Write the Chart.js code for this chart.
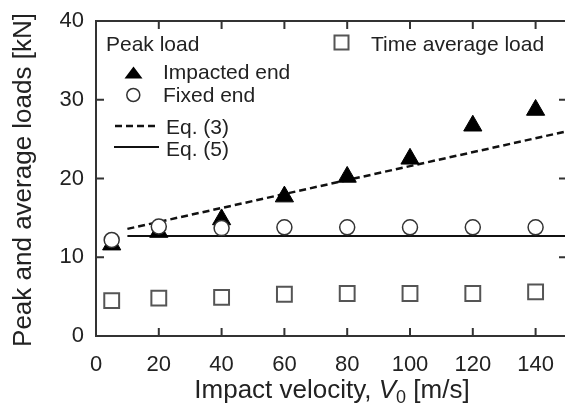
<!DOCTYPE html>
<html>
<head>
<meta charset="utf-8">
<script src="https://cdn.jsdelivr.net/npm/chart.js@4/dist/chart.umd.min.js"></script>
<style>
  html, body { margin: 0; padding: 0; background: #fff; overflow: hidden; }
  canvas { display: block; }
</style>
</head>
<body>
<canvas id="loads" width="570" height="408"></canvas>
<script>
// impact velocity [m/s]
const velocity = [5, 20, 40, 60, 80, 100, 120, 140];
// peak loads [kN]
const impactedEnd = [11.6, 13.2, 14.8, 17.7, 20.2, 22.5, 26.7, 28.7];
const fixedEnd = [12.2, 13.9, 13.7, 13.8, 13.8, 13.8, 13.8, 13.8];
// time average load [kN]
const timeAverage = [4.5, 4.8, 4.9, 5.3, 5.4, 5.4, 5.4, 5.6];
// model lines
const eq3X = [10, 150];
const eq3Y = [13.6, 26.0];
const eq5X = [10, 150];
const eq5Y = [12.7, 12.7];

const xTicks = [0, 20, 40, 60, 80, 100, 120, 140];
const yTicks = [0, 10, 20, 30, 40];

const FONT = "'Liberation Sans', Arial, sans-serif";
const INK = '#222';

function pts(xs, ys) {
  return xs.map((x, i) => ({ x: x, y: ys[i] }));
}

// frame, inward ticks, axis titles and the legend
const framePlugin = {
  id: 'frame',
  afterDraw(chart) {
    const ctx = chart.ctx;
    const a = chart.chartArea;
    const xs = chart.scales.x, ys = chart.scales.y;
    const tl = 8;
    ctx.save();
    ctx.strokeStyle = '#333';
    ctx.lineWidth = 2;
    ctx.strokeRect(a.left, a.top, a.right - a.left, a.bottom - a.top);
    ctx.beginPath();
    xTicks.forEach(v => {
      const px = xs.getPixelForValue(v);
      ctx.moveTo(px, a.bottom); ctx.lineTo(px, a.bottom - tl);
      ctx.moveTo(px, a.top); ctx.lineTo(px, a.top + tl);
    });
    yTicks.forEach(v => {
      const py = ys.getPixelForValue(v);
      ctx.moveTo(a.left, py); ctx.lineTo(a.left + tl, py);
      ctx.moveTo(a.right, py); ctx.lineTo(a.right - tl, py);
    });
    ctx.stroke();

    // x title with italic V and subscript 0
    ctx.fillStyle = INK;
    ctx.textBaseline = 'alphabetic';
    const parts = [
      { t: 'Impact velocity, ', f: '26px ' + FONT, dy: 0 },
      { t: 'V', f: 'italic 26px ' + FONT, dy: 0 },
      { t: '0', f: '18px ' + FONT, dy: 5 },
      { t: ' [m/s]', f: '26px ' + FONT, dy: 0 }
    ];
    let w = 0;
    parts.forEach(p => { ctx.font = p.f; w += ctx.measureText(p.t).width; });
    let x = 332 - w / 2;
    parts.forEach(p => {
      ctx.font = p.f;
      ctx.fillText(p.t, x, 398 + p.dy);
      x += ctx.measureText(p.t).width;
    });

    // y title
    ctx.save();
    ctx.translate(24, 180);
    ctx.rotate(-Math.PI / 2);
    ctx.font = '26px ' + FONT;
    ctx.textAlign = 'center';
    ctx.textBaseline = 'middle';
    ctx.fillText('Peak and average loads [kN]', 0, 0);
    ctx.restore();

    // legend
    ctx.font = '21px ' + FONT;
    ctx.textAlign = 'left';
    ctx.textBaseline = 'middle';
    ctx.fillText('Peak load', 106, 45);
    ctx.fillText('Time average load', 371, 45);
    ctx.fillText('Impacted end', 163, 73);
    ctx.fillText('Fixed end', 163, 96);
    ctx.fillText('Eq. (3)', 166, 128);
    ctx.fillText('Eq. (5)', 166, 150);

    ctx.fillStyle = '#000';
    ctx.beginPath();
    ctx.moveTo(133.5, 66.5); ctx.lineTo(142.5, 78.5); ctx.lineTo(124.5, 78.5);
    ctx.closePath();
    ctx.fill();

    ctx.strokeStyle = '#333';
    ctx.lineWidth = 1.5;
    ctx.beginPath();
    ctx.arc(133.3, 95, 6.5, 0, Math.PI * 2);
    ctx.stroke();

    ctx.strokeStyle = '#555';
    ctx.lineWidth = 2;
    ctx.strokeRect(334.5, 35.5, 14, 14);

    ctx.strokeStyle = '#111';
    ctx.lineWidth = 2.5;
    ctx.setLineDash([7, 4]);
    ctx.beginPath(); ctx.moveTo(115, 126); ctx.lineTo(159, 126); ctx.stroke();
    ctx.setLineDash([]);
    ctx.lineWidth = 2;
    ctx.beginPath(); ctx.moveTo(114, 147); ctx.lineTo(159, 147); ctx.stroke();
    ctx.restore();
  }
};

new Chart(document.getElementById('loads'), {
  type: 'scatter',
  data: {
    datasets: [
      {
        label: 'Impacted end',
        data: pts(velocity, impactedEnd),
        pointStyle: 'triangle',
        pointRadius: 10.5,
        backgroundColor: '#000',
        borderColor: '#000',
        borderWidth: 1,
        order: 2
      },
      {
        label: 'Fixed end',
        data: pts(velocity, fixedEnd),
        pointStyle: 'circle',
        pointRadius: 7.5,
        backgroundColor: '#fff',
        borderColor: '#333',
        borderWidth: 1.5,
        order: 1
      },
      {
        label: 'Time average load',
        data: pts(velocity, timeAverage),
        pointStyle: 'rect',
        pointRadius: 10.5,
        backgroundColor: 'rgba(255,255,255,0)',
        borderColor: '#555',
        borderWidth: 2,
        order: 1
      },
      {
        label: 'Eq. (3)',
        data: pts(eq3X, eq3Y),
        showLine: true,
        pointRadius: 0,
        borderColor: '#111',
        borderWidth: 2.5,
        borderDash: [7, 4],
        order: 5
      },
      {
        label: 'Eq. (5)',
        data: pts(eq5X, eq5Y),
        showLine: true,
        pointRadius: 0,
        borderColor: '#111',
        borderWidth: 2,
        order: 5
      }
    ]
  },
  options: {
    responsive: false,
    devicePixelRatio: 1,
    animation: false,
    layout: { autoPadding: false, padding: { left: 0, top: 21, right: 3, bottom: 0 } },
    plugins: { legend: { display: false }, tooltip: { enabled: false } },
    scales: {
      x: {
        type: 'linear',
        min: 0,
        max: 150,
        afterBuildTicks: s => { s.ticks = xTicks.map(v => ({ value: v })); },
        afterFit: s => { s.height = 72; s.paddingLeft = 0; s.paddingRight = 0; },
        grid: { display: false },
        border: { display: false },
        ticks: { color: INK, font: { family: FONT, size: 22 }, padding: 8, maxRotation: 0, autoSkip: false }
      },
      y: {
        type: 'linear',
        min: 0,
        max: 40,
        afterBuildTicks: s => { s.ticks = yTicks.map(v => ({ value: v })); },
        afterFit: s => { s.width = 96; s.paddingTop = 0; s.paddingBottom = 0; },
        grid: { display: false },
        border: { display: false },
        ticks: { color: INK, font: { family: FONT, size: 22 }, padding: 4 }
      }
    }
  },
  plugins: [framePlugin]
});
</script>
</body>
</html>
